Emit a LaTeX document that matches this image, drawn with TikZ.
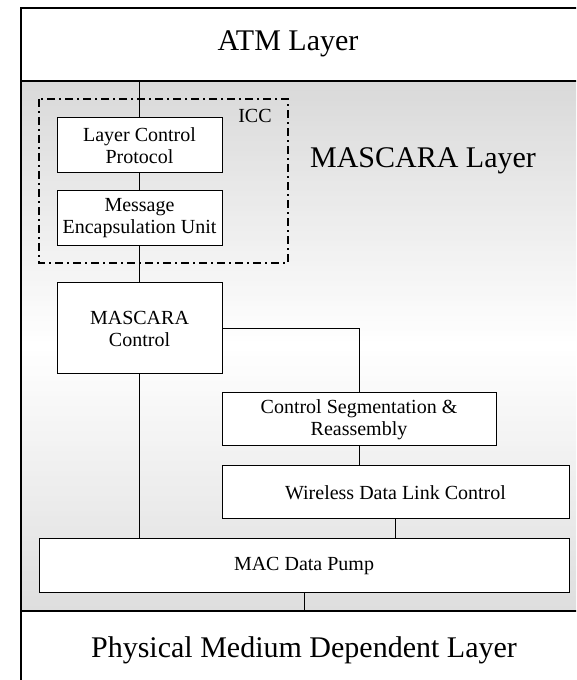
\documentclass[tikz,border=0pt]{standalone}
\usepackage{fontspec}
\setmainfont{Liberation Serif}
\usepackage{tikz}
\usetikzlibrary{positioning}

\tikzset{
  unit/.style={draw,fill=white,line width=1pt,inner sep=0pt,outer sep=0pt,
    align=center,font=\fontsize{20}{22}\selectfont},
  layerlabel/.style={font=\fontsize{30}{32}\selectfont,anchor=base},
  link/.style={line width=1pt},
  frame/.style={line width=1.3pt},
  iccbox/.style={line width=1.4pt,dash pattern=on 8pt off 4pt on 2pt off 4pt}
}

\begin{document}
\begin{tikzpicture}[x=1pt,y=1pt,node distance=2cm,on grid]
   \clip (0,0) rectangle (576,680);
   \fill[white] (0,0) rectangle (576,680);
   % MASCARA band, grey to white to grey
   \foreach \i in {0,...,105}{
     \pgfmathsetmacro{\t}{(\i+0.5)/106}
     \pgfmathsetmacro{\amt}{\t<0.5 ? 15*(1-2*\t) : 13*(2*\t-1)}
     \fill[black!\amt] (21,599-5*\i) rectangle (600,593.5-5*\i);
   }
   \draw[frame] (21,-20) -- (21,672) -- (600,672);
   \draw[frame] (21,599) -- (600,599);
   \draw[frame] (21,69) -- (600,69);
   \node[layerlabel] (atm) at (288,629) {ATM Layer};
   \node[layerlabel] (mascara) at (423,512) {MASCARA Layer};
   \node[layerlabel] (pmd) at (304,23) {Physical Medium Dependent Layer};
   \coordinate (atmbase) at (139.5,599);
   \coordinate (pmdtop) at (304,69);

   \draw[iccbox] (39,581) rectangle (288,417);
   \node[font=\fontsize{20}{22}\selectfont] (icc) at (255,564) {ICC};

   \node[unit,minimum width=165pt,minimum height=55pt] (lcp) at (139.5,534.5) {Layer Control\\Protocol};
   \node[unit,minimum width=165pt,minimum height=55pt,below=73pt of lcp] (meu) {Message\\Encapsulation Unit};
   \node[unit,minimum width=165pt,minimum height=91pt,below=110pt of meu] (mc) {MASCARA\\Control};
   \node[unit,minimum width=274pt,minimum height=53pt] (csr) at (359,260.5) {Control Segmentation \&\\Reassembly};
   \node[unit,minimum width=347pt,minimum height=53pt] (wdlc) at (395.5,187.5) {Wireless Data Link Control};
   \node[unit,minimum width=530pt,minimum height=54pt] (mac) at (304,114) {MAC Data Pump};

   \draw[link] (atmbase) -- (lcp.north);
   \draw[link] (lcp) -- (meu);
   \draw[link] (meu) -- (mc);
   \draw[link] (mc.south) -- (mc.south |- mac.north);
   \draw[link] (mc.east) -| (csr.north);
   \draw[link] (csr.south) -- (csr.south |- wdlc.north);
   \draw[link] (wdlc.south) -- (wdlc.south |- mac.north);
   \draw[link] (mac.south) -- (pmdtop);
\end{tikzpicture}
\end{document}
